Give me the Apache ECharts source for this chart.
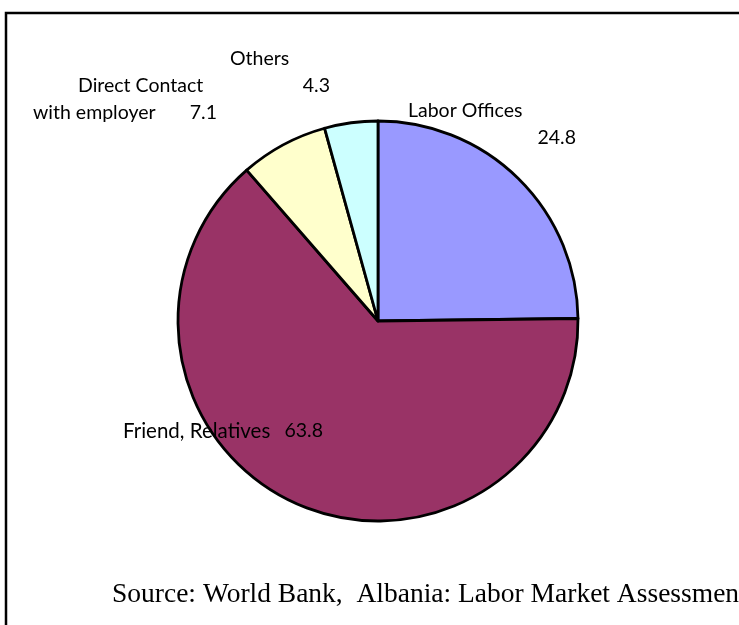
<!DOCTYPE html>
<html>
<head>
<meta charset="utf-8">
<script src="https://cdn.jsdelivr.net/npm/echarts@6/dist/echarts.min.js"></script>
<style>
html,body{margin:0;padding:0;background:#fff;}
#c{width:739px;height:625px;}
</style>
</head>
<body>
<div id="c"></div>
<script>
const categories = ['Labor Offices', 'Friend, Relatives', 'Direct Contact with employer', 'Others'];
const values = [24.8, 63.8, 7.1, 4.3];
const colors = ['#9999FF', '#993366', '#FFFFCC', '#CCFFFF'];
const sourceText = 'Source: World Bank,  Albania: Labor Market Assessment';

// label box top-left positions and widths (layout only)
const labelPos = [
  {x: 408, y: 97, w: 168, va: 'top'},
  {x: 123, y: 431, w: 200, va: 'middle'},
  {x: 33, y: 72, w: 184, va: 'top'},
  {x: 230, y: 45, w: 100, va: 'top'}
];

const FS = 19.5;
const labelFont = {fontFamily: 'Lato', fontSize: FS, color: '#000', lineHeight: 27};
function richSet() {
  return {
    l: Object.assign({align: 'left'}, labelFont),
    f: Object.assign({align: 'left', fontSize: 20.5}, labelFont, {fontSize: 20.5}),
    r: Object.assign({align: 'right'}, labelFont),
    c: Object.assign({align: 'left', padding: [0, 0, 0, 45]}, labelFont)
  };
}
const formatters = [
  () => '{l|' + categories[0] + '}\n{r|' + values[0] + '}',
  () => '{f|' + categories[1] + '}{r|' + values[1] + '}',
  () => '{c|Direct Contact}\n{l|with employer}{r|' + values[2] + '}',
  () => '{l|' + categories[3] + '}\n{r|' + values[3] + '}'
];

const data = categories.map((name, i) => {
  const lab = {
    show: true,
    formatter: formatters[i](),
    rich: richSet(),
    fontFamily: 'Lato', fontSize: FS, color: '#000', lineHeight: 27
  };
  if (labelPos[i].w) lab.width = labelPos[i].w;
  return {name: name, value: values[i], itemStyle: {color: colors[i]}, label: lab};
});

const chart = echarts.init(document.getElementById('c'), null, {renderer: 'canvas'});
chart.setOption({
  animation: false,
  backgroundColor: '#fff',
  graphic: [
    {type: 'rect', shape: {x: 6, y: 13, width: 780, height: 660},
     style: {fill: 'none', stroke: '#000', lineWidth: 2.5}, silent: true, z: 10},
    {type: 'text', x: 112, y: 595,
     style: {text: sourceText, font: '27.5px "Liberation Serif"', fill: '#000', textVerticalAlign: 'middle'}}
  ],
  series: [{
    type: 'pie',
    center: [378, 321],
    radius: 200,
    startAngle: 90,
    clockwise: true,
    avoidLabelOverlap: false,
    label: {position: 'outside'},
    labelLine: {show: false},
    itemStyle: {borderColor: '#000', borderWidth: 2.8},
    emphasis: {disabled: true},
    labelLayout: function (p) {
      const lp = labelPos[p.dataIndex];
      return {x: lp.x, y: lp.y, align: 'left', verticalAlign: lp.va};
    },
    data: data
  }]
});
</script>
</body>
</html>
